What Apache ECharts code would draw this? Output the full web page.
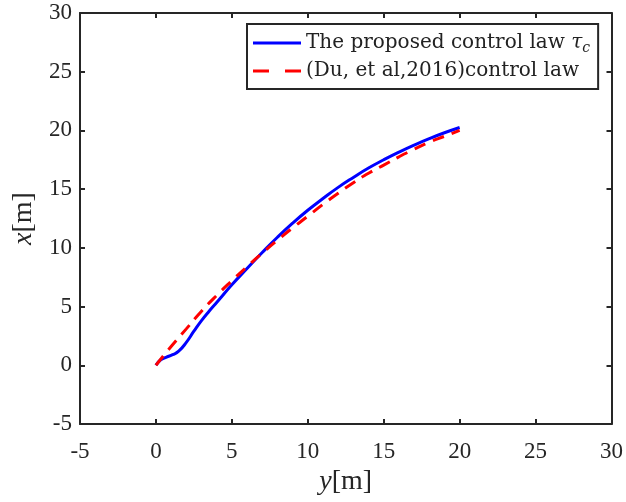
<!DOCTYPE html>
<html>
<head>
<meta charset="utf-8">
<script src="https://cdn.jsdelivr.net/npm/echarts@6/dist/echarts.min.js"></script>
<style>
html, body { margin: 0; padding: 0; background: #fff; }
#chart { width: 626px; height: 502px; }
</style>
</head>
<body>
<div id="chart"></div>
<script>
// horizontal values (y[m]) and vertical values (x[m]) of each trajectory
var proposedY = [0, 0.3, 0.7, 1.1, 1.5, 2.0, 2.5, 3.0, 3.5, 4.0, 5.0, 6.0, 7.0, 8.0, 9.0, 10.0, 11.0, 12.0, 13.0, 14.0, 15.0, 16.0, 17.0, 18.0, 19.0, 20.0];
var proposedX = [0, 0.45, 0.7, 0.9, 1.2, 1.95, 2.9, 3.8, 4.6, 5.35, 6.85, 8.25, 9.6, 10.9, 12.1, 13.2, 14.2, 15.15, 16.0, 16.8, 17.5, 18.15, 18.75, 19.3, 19.8, 20.25];
var duY = [0, 1, 2, 3, 4, 5, 6, 7, 8, 9, 10, 11, 12, 13, 14, 15, 16, 17, 18, 19, 20];
var duX = [0, 1.6, 3.1, 4.6, 5.95, 7.2, 8.4, 9.55, 10.65, 11.7, 12.7, 13.7, 14.65, 15.55, 16.35, 17.05, 17.75, 18.4, 19.0, 19.5, 20.0];
var ticks = [-5, 0, 5, 10, 15, 20, 25, 30];
var seriesNames = ['The proposed control law τc', '(Du, et al,2016)control law'];

function pairs(a, b) {
	var out = [];
	for (var i = 0; i < a.length; i++) {
		out.push([a[i], b[i]]);
	}
	return out;
}

var font = '"Liberation Serif", "Times New Roman", serif';
var legendFont = '"DejaVu Serif", serif';
var axisColor = '#262626';

function makeAxis(pos, showLabel, name) {
	var ax = {
		type : 'value',
		position : pos,
		min : ticks[0],
		max : ticks[ticks.length - 1],
		interval : 5,
		splitLine : { show : false },
		axisLine : { show : true, onZero : false, lineStyle : { color : axisColor, width : 2 } },
		axisTick : { show : true, inside : true, length : 5, lineStyle : { color : axisColor, width : 2 } },
		axisLabel : {
			show : showLabel,
			color : '#262626',
			fontFamily : font,
			fontSize : 23,
			margin : 8
		}
	};
	if (name) {
		ax.name = name;
		ax.nameLocation = 'middle';
		ax.nameTextStyle = {
			color : '#262626',
			fontFamily : font,
			fontSize : 28,
			rich : {
				i : { fontFamily : font, fontStyle : 'italic', fontSize : 28, color : '#262626' },
				n : { fontFamily : font, fontSize : 28, color : '#262626' }
			}
		};
	}
	return ax;
}

var xBottom = makeAxis('bottom', true, '{i|y}{n|[m]}');
xBottom.axisLabel.margin = 16;
xBottom.nameGap = 39;
var yLeft = makeAxis('left', true, '{i|x}{n|[m]}');
yLeft.nameGap = 34;
yLeft.nameRotate = 90;

var chart = echarts.init(document.getElementById('chart'));
chart.setOption({
	backgroundColor : '#fff',
	animation : false,
	grid : { left : 80, right : 14, top : 13, bottom : 78 },
	legend : {
		left : 247,
		top : 24,
		orient : 'vertical',
		backgroundColor : '#fff',
		borderColor : axisColor,
		borderWidth : 2,
		borderRadius : 0,
		padding : [7, 8, 6, 6],
		itemGap : 4,
		itemWidth : 48,
		itemHeight : 3,
		data : [
			{ name : seriesNames[0], icon : 'rect' },
			{ name : seriesNames[1], icon : 'path://M0,0h16v3h-16z M32,0h16v3h-16z' }
		],
		formatter : function(name) {
			if (name === seriesNames[0]) {
				return 'The proposed control law {i|τ}{s|c}';
			}
			return name;
		},
		textStyle : {
			fontFamily : legendFont,
			fontSize : 20,
			lineHeight : 24,
			color : '#222',
			rich : {
				i : { fontFamily : legendFont, fontStyle : 'italic', fontSize : 20, lineHeight : 24, color : '#222' },
				s : { fontFamily : legendFont, fontStyle : 'italic', fontSize : 14, lineHeight : 24, color : '#222', padding : [10, 0, 0, 0] }
			}
		}
	},
	xAxis : [ xBottom, makeAxis('top', false) ],
	yAxis : [ yLeft, makeAxis('right', false) ],
	series : [ {
		name : seriesNames[0],
		type : 'line',
		smooth : true,
		symbol : 'none',
		data : pairs(proposedY, proposedX),
		lineStyle : { color : '#0000ff', width : 3 },
		itemStyle : { color : '#0000ff' },
		z : 2
	}, {
		name : seriesNames[1],
		type : 'line',
		smooth : true,
		symbol : 'none',
		data : pairs(duY, duX),
		lineStyle : { color : '#ff0000', width : 3, type : [12, 8] },
		itemStyle : { color : '#ff0000' },
		z : 3
	} ]
});
</script>
</body>
</html>
